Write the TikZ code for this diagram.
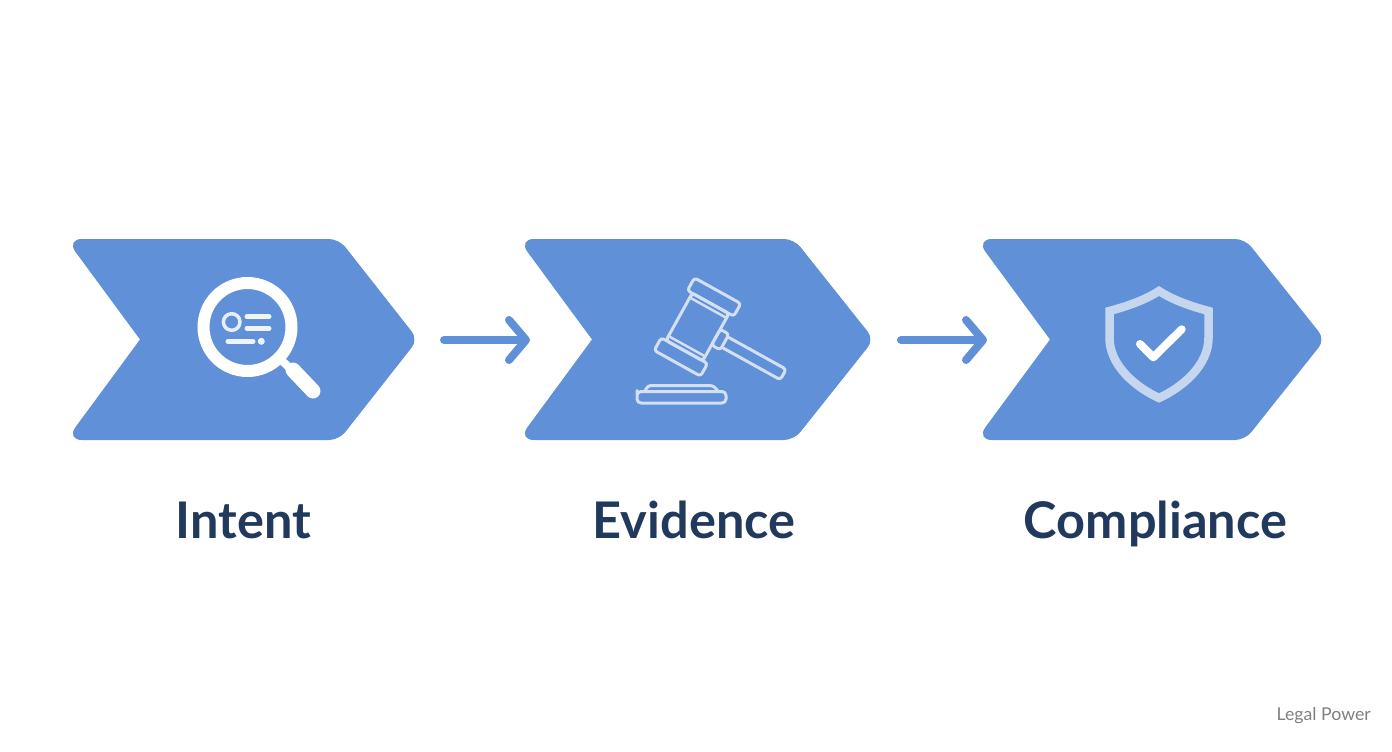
\documentclass[tikz,border=0pt]{standalone}
\usepackage{fontspec}
\setmainfont{Lato}
\usetikzlibrary{arrows.meta}
\definecolor{chevblue}{HTML}{5F90D8}
\definecolor{titleink}{HTML}{20395C}
\definecolor{gavelline}{HTML}{D3DFF2}
\definecolor{shieldline}{HTML}{C6D6EF}
\tikzset{
    chevron/.style={fill=chevblue},
    backcorner/.style={rounded corners=16pt},
    frontcorner/.style={rounded corners=10pt},
    flow/.style={draw=chevblue, line width=8pt, line cap=round,
        -{Straight Barb[round, length=17pt, width=40pt]}},
    title/.style={font=\bfseries\fontsize{50.5}{52}\selectfont, text=titleink, anchor=base},
    glass/.style={draw=white, line cap=round},
    gavel/.style={draw=gavelline, line width=3pt, rounded corners=3pt, line join=round},
}
\begin{document}
\begin{tikzpicture}[x=1pt,y=-1pt]
    \useasboundingbox (0,0) rectangle (1392,752);
    % chevrons
    \fill[chevron] (140,339.5) [backcorner] -- (66,239) [frontcorner] -- (339,239) -- (418,339.5) -- (339,440) [backcorner] -- (66,440) [sharp corners] -- (140,339.5);
    \fill[chevron] (592,339.5) [backcorner] -- (518,239) [frontcorner] -- (794,239) -- (874,339.5) -- (794,440) [backcorner] -- (518,440) [sharp corners] -- (592,339.5);
    \fill[chevron] (1050,339.5) [backcorner] -- (976,239) [frontcorner] -- (1245,239) -- (1325,339.5) -- (1245,440) [backcorner] -- (976,440) [sharp corners] -- (1050,339.5);
    % arrows
    \coordinate (flowAin) at (444,340);
    \coordinate (flowAout) at (530,340);
    \coordinate (flowBin) at (901,340);
    \coordinate (flowBout) at (987,340);
    \draw[flow] (flowAin) -- (flowAout);
    \draw[flow] (flowBin) -- (flowBout);
    % magnifier
    \draw[glass, line width=12pt] (247.5,327) circle (44);
    \draw[glass, line width=8pt, line cap=butt] (279,358) -- (294,372);
    \draw[glass, line width=15pt] (293,370) -- (313,391);
    \draw[glass, line width=3.5pt, opacity=.85] (231.7,322) circle (8.3);
    \draw[glass, line width=5pt, opacity=.9] (247,316.7) -- (269,316.7);
    \draw[glass, line width=5pt, opacity=.9] (247,328.3) -- (269,328.3);
    \draw[glass, line width=5pt, opacity=.9] (228,341.3) -- (253,341.3);
    \fill[white, opacity=.9] (261.3,341.3) circle (3.5);
    % gavel
    \begin{scope}[shift={(697.5,327)},rotate=-29]
        \draw[gavel] (-26.5,-41.5) rectangle (26.5,-27);
        \draw[gavel] (-26.5,27) rectangle (26.5,41.5);
        \draw[gavel] (-21,-27) rectangle (21,27);
        \draw[gavel, line width=2.5pt] (-21,-22) -- (21,-22);
        \draw[gavel, line width=2.5pt] (-21,22) -- (21,22);
        \draw[gavel] (21,-9) rectangle (31,9);
        \draw[gavel] (31,-6) -- (98,-6) -- (98,6) -- (31,6);
    \end{scope}
    \draw[gavel] (645,391) -- (648,385.5) -- (713,385.5) -- (718,391);
    \draw[gavel, rounded corners=4pt] (637,394.5) -- (637,391.5) -- (726,391.5) -- (726,403) -- (637,403) -- cycle;
    % shield
    \draw[draw=shieldline, line width=8.5pt, line join=miter]
        (1159,291) .. controls (1145,300) and (1128,306) .. (1109.5,311)
        -- (1109.5,338) .. controls (1109.5,365) and (1135,387) .. (1159,398)
        .. controls (1183,387) and (1208.5,365) .. (1208.5,338)
        -- (1208.5,311) .. controls (1190,306) and (1173,300) .. (1159,291) -- cycle;
    \draw[draw=white, line width=8pt, line cap=round, line join=round]
        (1140,344) -- (1153.3,357.3) -- (1181.7,329.3);
    % labels
    \node[title] (intent) at (243.5,538) {Intent};
    \node[title] (evidence) at (694,538) {Evidence};
    \node[title] (compliance) at (1155.5,538) {Compliance};
    \node[anchor=base east, inner sep=0pt, text=gray, font=\fontsize{17.7}{19}\selectfont] (mark) at (1371,720) {Legal Power};
\end{tikzpicture}
\end{document}
